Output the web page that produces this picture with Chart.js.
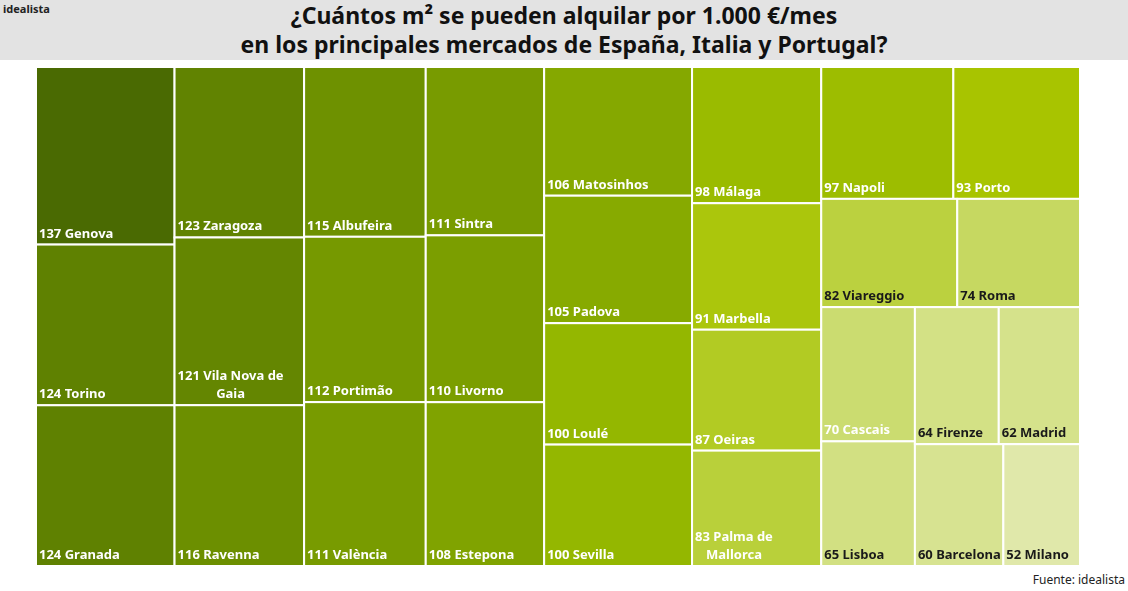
<!DOCTYPE html>
<html><head><meta charset="utf-8">
<script src="https://cdn.jsdelivr.net/npm/chart.js@4"></script>
<style>
body{margin:0;width:1128px;height:591px;overflow:hidden;background:#fff;font-family:"Noto Sans",sans-serif}
#hdr{position:absolute;left:0;top:0;width:1128px;height:60px;background:#e3e3e3}
#t{position:absolute;top:1px;width:1128px;text-align:center;font-weight:bold;font-size:23px;line-height:29px;color:#111}
#logo{position:absolute;left:3px;top:1px;font-size:11px;font-weight:bold;color:#222}
#src{position:absolute;right:3px;top:571px;font-size:12px;color:#222}
canvas{position:absolute;left:0;top:0}
</style></head><body>
<div id="hdr"></div>
<div id="t">¿Cuántos m² se pueden alquilar por 1.000 €/mes<br>en los principales mercados de España, Italia y Portugal?</div>
<div id="logo">idealista</div>
<div id="src">Fuente: idealista</div>
<canvas id="c" width="1128" height="591"></canvas>
<script>
const cities=["Genova","Torino","Granada","Zaragoza","Vila Nova de\nGaia","Ravenna","Albufeira","Portimão","València","Sintra","Livorno","Estepona","Matosinhos","Padova","Loulé","Sevilla","Málaga","Marbella","Oeiras","Palma de\nMallorca","Napoli","Porto","Viareggio","Roma","Cascais","Lisboa","Firenze","Madrid","Barcelona","Milano"];
const values=[137,124,124,123,121,116,115,112,111,111,110,108,106,105,100,100,98,91,87,83,97,93,82,74,70,65,64,62,60,52];
const tree={d:'h',c:[{d:'v',c:[0,1,2]},{d:'v',c:[3,4,5]},{d:'v',c:[6,7,8]},{d:'v',c:[9,10,11]},{d:'v',c:[12,13,14,15]},{d:'v',c:[16,17,18,19]},
 {d:'v',c:[{d:'h',c:[20,21]},{d:'h',c:[22,23]},{d:'h',c:[{d:'v',c:[24,25]},{d:'v',c:[{d:'h',c:[26,27]},{d:'h',c:[28,29]}]}]}]}]};
function sum(n){return typeof n==='number'?values[n]:n.c.reduce((a,b)=>a+sum(b),0);}
const stops=[[52,[224,232,170]],[65,[210,224,130]],[80,[190,211,75]],[93,[168,196,0]],[100,[148,183,0]],[115,[110,145,0]],[137,[74,106,2]]];
function col(v){for(let i=1;i<stops.length;i++){if(v<=stops[i][0]){const [a,ca]=stops[i-1],[b,cb]=stops[i];const t=(v-a)/(b-a);return 'rgb('+ca.map((x,k)=>Math.round(x+(cb[k]-x)*t)).join(',')+')';}}return 'rgb(74,106,2)';}
const tm={id:'tm',afterDatasetsDraw(ch){
 const x=ch.scales.x,y=ch.scales.y,ctx=ch.ctx;
 function lay(n,x0,y0,x1,y1){
  if(typeof n==='number'){
   const px0=x.getPixelForValue(x0),px1=x.getPixelForValue(x1),py0=y.getPixelForValue(y0),py1=y.getPixelForValue(y1);
   ctx.fillStyle=col(values[n]);ctx.fillRect(px0,py0,px1-px0,py1-py0);
   ctx.strokeStyle='#fff';ctx.lineWidth=2;ctx.strokeRect(px0,py0,px1-px0,py1-py0);
   const lines=(values[n]+' '+cities[n]).split('\n');
   ctx.fillStyle=values[n]<=82&&values[n]!==70?'#1a1a1a':'#fff';ctx.font='bold 13px "Noto Sans"';ctx.textBaseline='alphabetic';
   const w0=ctx.measureText(lines[0]).width;
   lines.forEach((l,i)=>{const tw=ctx.measureText(l).width;ctx.fillText(l,i>0?px0+3+(w0-tw)/2:px0+3,py1-7-(lines.length-1-i)*18);});
   return;}
  const tot=sum(n);let p=n.d==='h'?x0:y0;
  n.c.forEach(k=>{const s=sum(k)/tot;
   if(n.d==='h'){const q=p+(x1-x0)*s;lay(k,p,y0,q,y1);p=q;}else{const q=p+(y1-y0)*s;lay(k,x0,p,x1,q);p=q;}});
 }
 lay(tree,0,0,1,1);
}};
new Chart(document.getElementById('c'),{type:'scatter',data:{datasets:[{data:[]}]},
 options:{responsive:false,animation:false,layout:{padding:{left:36,right:48,top:67,bottom:25}},
 plugins:{legend:{display:false},tooltip:{enabled:false}},
 scales:{x:{type:'linear',min:0,max:1,display:false},y:{type:'linear',min:0,max:1,display:false,reverse:true}}},plugins:[tm]});
</script></body></html>
